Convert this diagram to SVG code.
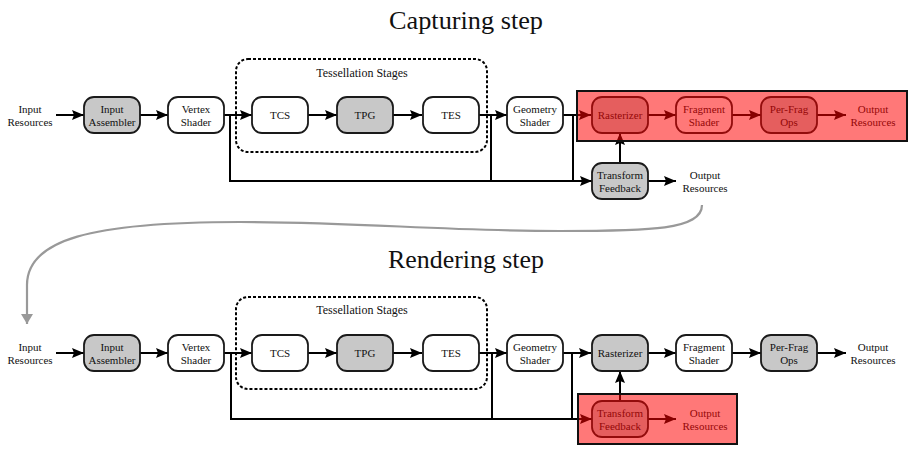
<svg xmlns="http://www.w3.org/2000/svg" width="919" height="455" viewBox="0 0 919 455">
<defs>
<style>
.n{fill:#fff;stroke:#1a1a1a;stroke-width:1.8}
.g{fill:#c8c8c8;stroke:#1a1a1a;stroke-width:1.8}
.t{font-family:"Liberation Serif","Times New Roman",serif;font-size:11px;fill:#111;text-anchor:middle}
.ts{font-family:"Liberation Serif","Times New Roman",serif;font-size:12px;fill:#111;text-anchor:middle}
.title{font-family:"Liberation Serif","Times New Roman",serif;font-size:25px;fill:#111;text-anchor:middle}
.e{fill:none;stroke:#000;stroke-width:2}
.a{fill:none;stroke:#000;stroke-width:2;marker-end:url(#ah)}
.dash{fill:none;stroke:#000;stroke-width:2;stroke-dasharray:3 2}
.ov{fill:#ff0000;fill-opacity:0.53;stroke:#111;stroke-width:2}
</style>
<marker id="ah" viewBox="0 0 12 10" refX="12" refY="5" markerWidth="12" markerHeight="10" markerUnits="userSpaceOnUse" orient="auto">
<path d="M0,0 L12,5 L0,10 L2,5 Z" fill="#000"/>
</marker>
<marker id="gah" viewBox="0 0 10 12" refX="10" refY="6" markerWidth="12" markerHeight="12" markerUnits="userSpaceOnUse" orient="auto">
<path d="M0,0 L10,6 L0,12 Z" fill="#999"/>
</marker>
</defs>
<rect width="919" height="455" fill="#fff"/>

<text class="title" x="466" y="29" textLength="154" lengthAdjust="spacingAndGlyphs">Capturing step</text>
<text class="title" x="466" y="268" textLength="156" lengthAdjust="spacingAndGlyphs">Rendering step</text>

<!-- Capturing step -->
<g id="cap-tess-group">
<rect class="dash" x="236" y="59" width="251" height="93" rx="12"/>
<text class="ts" x="362" y="77">Tessellation Stages</text>
</g>

<g id="cap-connectors">
<line class="a" x1="56" y1="115" x2="84" y2="115"/>
<line class="a" x1="140" y1="115" x2="168" y2="115"/>
<line class="a" x1="224" y1="115" x2="252" y2="115"/>
<line class="a" x1="308" y1="115" x2="337" y2="115"/>
<line class="a" x1="393" y1="115" x2="422" y2="115"/>
<line class="a" x1="479" y1="115" x2="507" y2="115"/>
<line class="a" x1="563" y1="115" x2="591" y2="115"/>
<polyline class="e" points="230,115 230,181"/>
<polyline class="e" points="491,115 491,181"/>
<polyline class="e" points="573,115 573,181"/>
<line class="a" x1="229" y1="181" x2="592" y2="181"/>
<line class="a" x1="620" y1="163" x2="620" y2="133"/>
<line class="a" x1="648" y1="181" x2="676" y2="181"/>
<line class="a" x1="648" y1="115" x2="676" y2="115"/>
<line class="a" x1="732" y1="115" x2="761" y2="115"/>
<line class="a" x1="817" y1="115" x2="846" y2="115"/>
</g>

<g id="cap-input"><text class="t" x="30" y="113">Input</text><text class="t" x="30" y="126">Resources</text></g>
<g id="cap-ia"><rect class="g" x="84" y="97" width="56" height="36" rx="10"/><text class="t" x="112" y="113">Input</text><text class="t" x="112" y="126">Assembler</text></g>
<g id="cap-vs"><rect class="n" x="168" y="97" width="56" height="36" rx="10"/><text class="t" x="196" y="113">Vertex</text><text class="t" x="196" y="126">Shader</text></g>
<g id="cap-tcs"><rect class="n" x="252" y="97" width="56" height="36" rx="10"/><text class="t" x="280" y="119">TCS</text></g>
<g id="cap-tpg"><rect class="g" x="337" y="97" width="56" height="36" rx="10"/><text class="t" x="365" y="119">TPG</text></g>
<g id="cap-tes"><rect class="n" x="423" y="97" width="56" height="36" rx="10"/><text class="t" x="451" y="119">TES</text></g>
<g id="cap-gs"><rect class="n" x="507" y="97" width="56" height="36" rx="10"/><text class="t" x="535" y="113">Geometry</text><text class="t" x="535" y="126">Shader</text></g>
<g id="cap-rast"><rect class="g" x="592" y="97" width="56" height="36" rx="10"/><text class="t" x="620" y="119">Rasterizer</text></g>
<g id="cap-fs"><rect class="n" x="676" y="97" width="56" height="36" rx="10"/><text class="t" x="704" y="113">Fragment</text><text class="t" x="704" y="126">Shader</text></g>
<g id="cap-pfo"><rect class="g" x="761" y="97" width="56" height="36" rx="10"/><text class="t" x="789" y="113">Per-Frag</text><text class="t" x="789" y="126">Ops</text></g>
<g id="cap-out"><text class="t" x="873" y="113">Output</text><text class="t" x="873" y="126">Resources</text></g>
<g id="cap-tf"><rect class="g" x="592" y="163" width="56" height="36" rx="10"/><text class="t" x="620" y="179">Transform</text><text class="t" x="620" y="192">Feedback</text></g>
<g id="cap-tfout"><text class="t" x="705" y="179">Output</text><text class="t" x="705" y="192">Resources</text></g>
<rect id="cap-overlay" class="ov" x="577" y="91" width="330" height="50"/>

<!-- transition arrow -->
<g id="transition">
<path d="M702,205 C702,230 650,231 560,231 C440,231 360,222 240,222 C90,222 27,240 27,285 L27,324" fill="none" stroke="#999" stroke-width="2.2" marker-end="url(#gah)"/>
</g>

<!-- Rendering step -->
<g id="ren-tess-group">
<rect class="dash" x="236" y="297" width="251" height="92" rx="12"/>
<text class="ts" x="362" y="314">Tessellation Stages</text>
</g>

<g id="ren-connectors">
<line class="a" x1="56" y1="353" x2="84" y2="353"/>
<line class="a" x1="140" y1="353" x2="168" y2="353"/>
<line class="a" x1="224" y1="353" x2="252" y2="353"/>
<line class="a" x1="308" y1="353" x2="337" y2="353"/>
<line class="a" x1="393" y1="353" x2="422" y2="353"/>
<line class="a" x1="479" y1="353" x2="507" y2="353"/>
<line class="a" x1="563" y1="353" x2="591" y2="353"/>
<polyline class="e" points="231,353 231,419"/>
<polyline class="e" points="492,353 492,419"/>
<polyline class="e" points="572,353 572,419"/>
<line class="a" x1="230" y1="419" x2="592" y2="419"/>
<line class="a" x1="620" y1="401" x2="620" y2="371"/>
<line class="a" x1="648" y1="419" x2="676" y2="419"/>
<line class="a" x1="648" y1="353" x2="676" y2="353"/>
<line class="a" x1="732" y1="353" x2="761" y2="353"/>
<line class="a" x1="817" y1="353" x2="846" y2="353"/>
</g>

<g id="ren-input"><text class="t" x="30" y="351">Input</text><text class="t" x="30" y="364">Resources</text></g>
<g id="ren-ia"><rect class="g" x="84" y="335" width="56" height="36" rx="10"/><text class="t" x="112" y="351">Input</text><text class="t" x="112" y="364">Assembler</text></g>
<g id="ren-vs"><rect class="n" x="168" y="335" width="56" height="36" rx="10"/><text class="t" x="196" y="351">Vertex</text><text class="t" x="196" y="364">Shader</text></g>
<g id="ren-tcs"><rect class="n" x="252" y="335" width="56" height="36" rx="10"/><text class="t" x="280" y="357">TCS</text></g>
<g id="ren-tpg"><rect class="g" x="337" y="335" width="56" height="36" rx="10"/><text class="t" x="365" y="357">TPG</text></g>
<g id="ren-tes"><rect class="n" x="423" y="335" width="56" height="36" rx="10"/><text class="t" x="451" y="357">TES</text></g>
<g id="ren-gs"><rect class="n" x="507" y="335" width="56" height="36" rx="10"/><text class="t" x="535" y="351">Geometry</text><text class="t" x="535" y="364">Shader</text></g>
<g id="ren-rast"><rect class="g" x="592" y="335" width="56" height="36" rx="10"/><text class="t" x="620" y="357">Rasterizer</text></g>
<g id="ren-fs"><rect class="n" x="676" y="335" width="56" height="36" rx="10"/><text class="t" x="704" y="351">Fragment</text><text class="t" x="704" y="364">Shader</text></g>
<g id="ren-pfo"><rect class="g" x="761" y="335" width="56" height="36" rx="10"/><text class="t" x="789" y="351">Per-Frag</text><text class="t" x="789" y="364">Ops</text></g>
<g id="ren-out"><text class="t" x="873" y="351">Output</text><text class="t" x="873" y="364">Resources</text></g>
<g id="ren-tf"><rect class="g" x="592" y="401" width="56" height="36" rx="10"/><text class="t" x="620" y="417">Transform</text><text class="t" x="620" y="430">Feedback</text></g>
<g id="ren-tfout"><text class="t" x="705" y="417">Output</text><text class="t" x="705" y="430">Resources</text></g>
<rect id="ren-overlay" class="ov" x="578" y="394" width="159" height="50"/>
</svg>
